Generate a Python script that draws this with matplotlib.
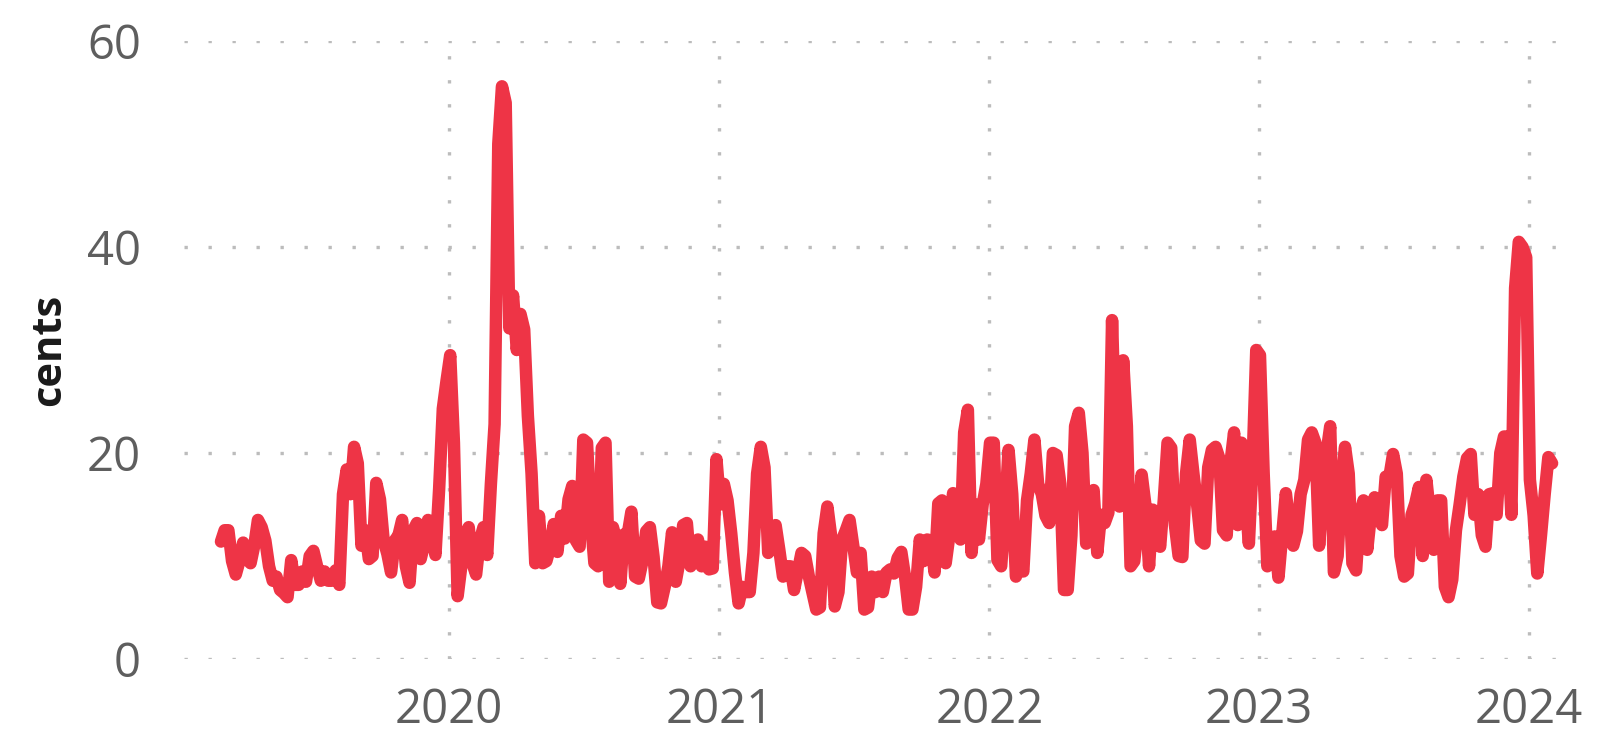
import pandas as pd
import matplotlib
matplotlib.use("Agg")
import matplotlib.pyplot as plt
import matplotlib.dates as mdates

# ---------- Data ----------
# one reading every 5 days, cents
start_date = "2019-02-27"
step = "5D"
cents = [
    11.4, 12.5, 12.5, 9.5, 8.2, 9.5, 11.3, 9.7, 9.3, 11.0,
    13.5, 12.8, 11.5, 9.0, 7.6, 8.0, 6.7, 6.4, 6.0, 9.6,
    7.2, 7.2, 8.5, 7.5, 10.0, 10.5, 9.0, 7.6, 8.5, 7.6,
    7.6, 8.6, 7.2, 16.0, 18.4, 16.0, 20.6, 19.0, 11.0, 12.5,
    9.7, 10.0, 17.1, 15.5, 11.5, 10.2, 8.4, 11.5, 12.0, 13.5,
    9.0, 7.4, 12.5, 13.2, 9.7, 11.2, 13.5, 12.0, 10.1, 16.5,
    24.3, 27.0, 29.5, 21.0, 6.1, 9.0, 12.0, 12.8, 9.3, 8.2,
    11.5, 12.8, 10.1, 17.0, 22.8, 50.0, 55.6, 54.0, 32.1, 35.3,
    30.0, 33.5, 32.0, 23.6, 18.0, 9.3, 13.9, 9.3, 9.5, 10.8,
    13.1, 10.4, 13.9, 11.7, 15.5, 16.8, 11.5, 10.9, 21.3, 21.0,
    13.6, 9.3, 9.0, 20.5, 21.0, 7.5, 12.8, 11.3, 7.3, 12.1,
    12.1, 14.3, 8.0, 7.8, 9.5, 12.4, 12.8, 9.9, 5.5, 5.4,
    7.0, 9.0, 12.3, 7.5, 9.5, 13.0, 13.2, 9.0, 11.3, 11.6,
    9.0, 10.9, 8.7, 8.8, 19.4, 15.0, 17.0, 15.4, 12.2, 8.4,
    5.4, 7.0, 6.5, 6.5, 10.3, 18.0, 20.6, 18.6, 10.3, 11.5,
    13.0, 10.6, 8.0, 9.0, 9.0, 6.7, 8.5, 10.3, 10.0, 8.0,
    6.4, 4.8, 5.0, 12.2, 14.8, 12.0, 5.1, 6.5, 11.6, 12.5,
    13.5, 11.0, 8.4, 10.3, 4.8, 5.0, 8.0, 6.5, 8.0, 6.5,
    8.4, 8.7, 8.3, 9.8, 10.4, 8.0, 4.8, 4.8, 7.0, 11.6,
    9.5, 11.6, 11.5, 8.4, 15.1, 15.4, 9.3, 12.0, 16.1, 13.0,
    11.6, 22.0, 24.2, 10.3, 15.0, 11.6, 15.0, 17.0, 21.0, 21.0,
    9.6, 9.0, 14.0, 20.3, 16.0, 8.0, 9.5, 8.5, 15.4, 18.0,
    21.3, 17.0, 16.0, 13.9, 13.2, 20.0, 19.8, 17.0, 6.7, 6.7,
    12.0, 22.6, 23.9, 20.0, 11.2, 14.0, 16.4, 10.3, 14.0, 13.2,
    14.2, 32.9, 20.0, 14.8, 29.0, 22.6, 9.0, 9.5, 13.0, 17.9,
    15.0, 9.0, 14.5, 12.5, 10.9, 15.5, 21.0, 20.5, 13.0, 10.0,
    9.9, 18.0, 21.3, 18.0, 15.0, 11.5, 11.2, 18.6, 20.3, 20.6,
    19.5, 12.5, 12.0, 19.0, 22.0, 13.0, 21.0, 16.0, 11.2, 19.0,
    30.0, 29.5, 18.0, 9.0, 11.5, 11.9, 7.9, 12.0, 16.1, 13.0,
    11.0, 12.4, 16.0, 17.4, 21.3, 22.0, 21.0, 11.0, 16.0, 20.0,
    22.6, 8.4, 10.0, 17.0, 20.6, 18.0, 9.3, 8.6, 14.0, 15.4,
    10.6, 14.0, 15.7, 14.0, 13.0, 17.7, 17.7, 19.9, 18.0, 10.0,
    8.0, 8.3, 14.0, 15.1, 16.7, 10.0, 17.4, 14.0, 10.6, 15.4,
    15.4, 7.0, 6.0, 7.7, 12.5, 15.0, 17.7, 19.5, 19.9, 14.0,
    16.0, 12.0, 10.9, 16.0, 16.1, 14.0, 20.0, 21.6, 21.6, 14.0,
    36.0, 40.5, 40.0, 39.0, 17.4, 14.0, 8.3, 12.0, 16.0, 19.6,
    19.0,
]
y_ticks = [0, 20, 40, 60]
y_label = "cents"

dates = pd.date_range(start_date, periods=len(cents), freq=step)

# ---------- Style ----------
plt.rcParams["font.family"] = ["Open Sans", "DejaVu Sans"]
line_color = "#EE3446"
grid_color = "#bcbcbc"
tick_color = "#5e5e5e"

# ---------- Plot ----------
fig = plt.figure(figsize=(16.04, 7.36), dpi=100)
ax = fig.add_axes([184 / 1604, 1 - 659 / 736, (1575 - 184) / 1604, (659 - 41) / 736])

ax.plot(dates, cents, color=line_color, linewidth=9,
        solid_joinstyle="round", solid_capstyle="round", zorder=3)

ax.set_xlim(pd.Timestamp("2019-01-08"), pd.Timestamp("2024-03-03"))
ax.set_ylim(0, 60)
ax.set_yticks(y_ticks)
ax.xaxis.set_major_locator(mdates.YearLocator())
ax.xaxis.set_major_formatter(mdates.DateFormatter("%Y"))

# dotted grid, ~3px dots every 24px
ax.grid(True, color=grid_color, linewidth=2.4, linestyle=(0, (1, 6.2)), zorder=0)
for s in ax.spines.values():
    s.set_visible(False)

ax.tick_params(axis="both", length=0, labelsize=34, labelcolor=tick_color)
ax.tick_params(axis="y", pad=31)
ax.tick_params(axis="x", pad=20)
ax.set_ylabel(y_label, fontsize=30, fontweight="bold", color="#1a1a1a", labelpad=12)

fig.savefig("out.png", dpi=100)
